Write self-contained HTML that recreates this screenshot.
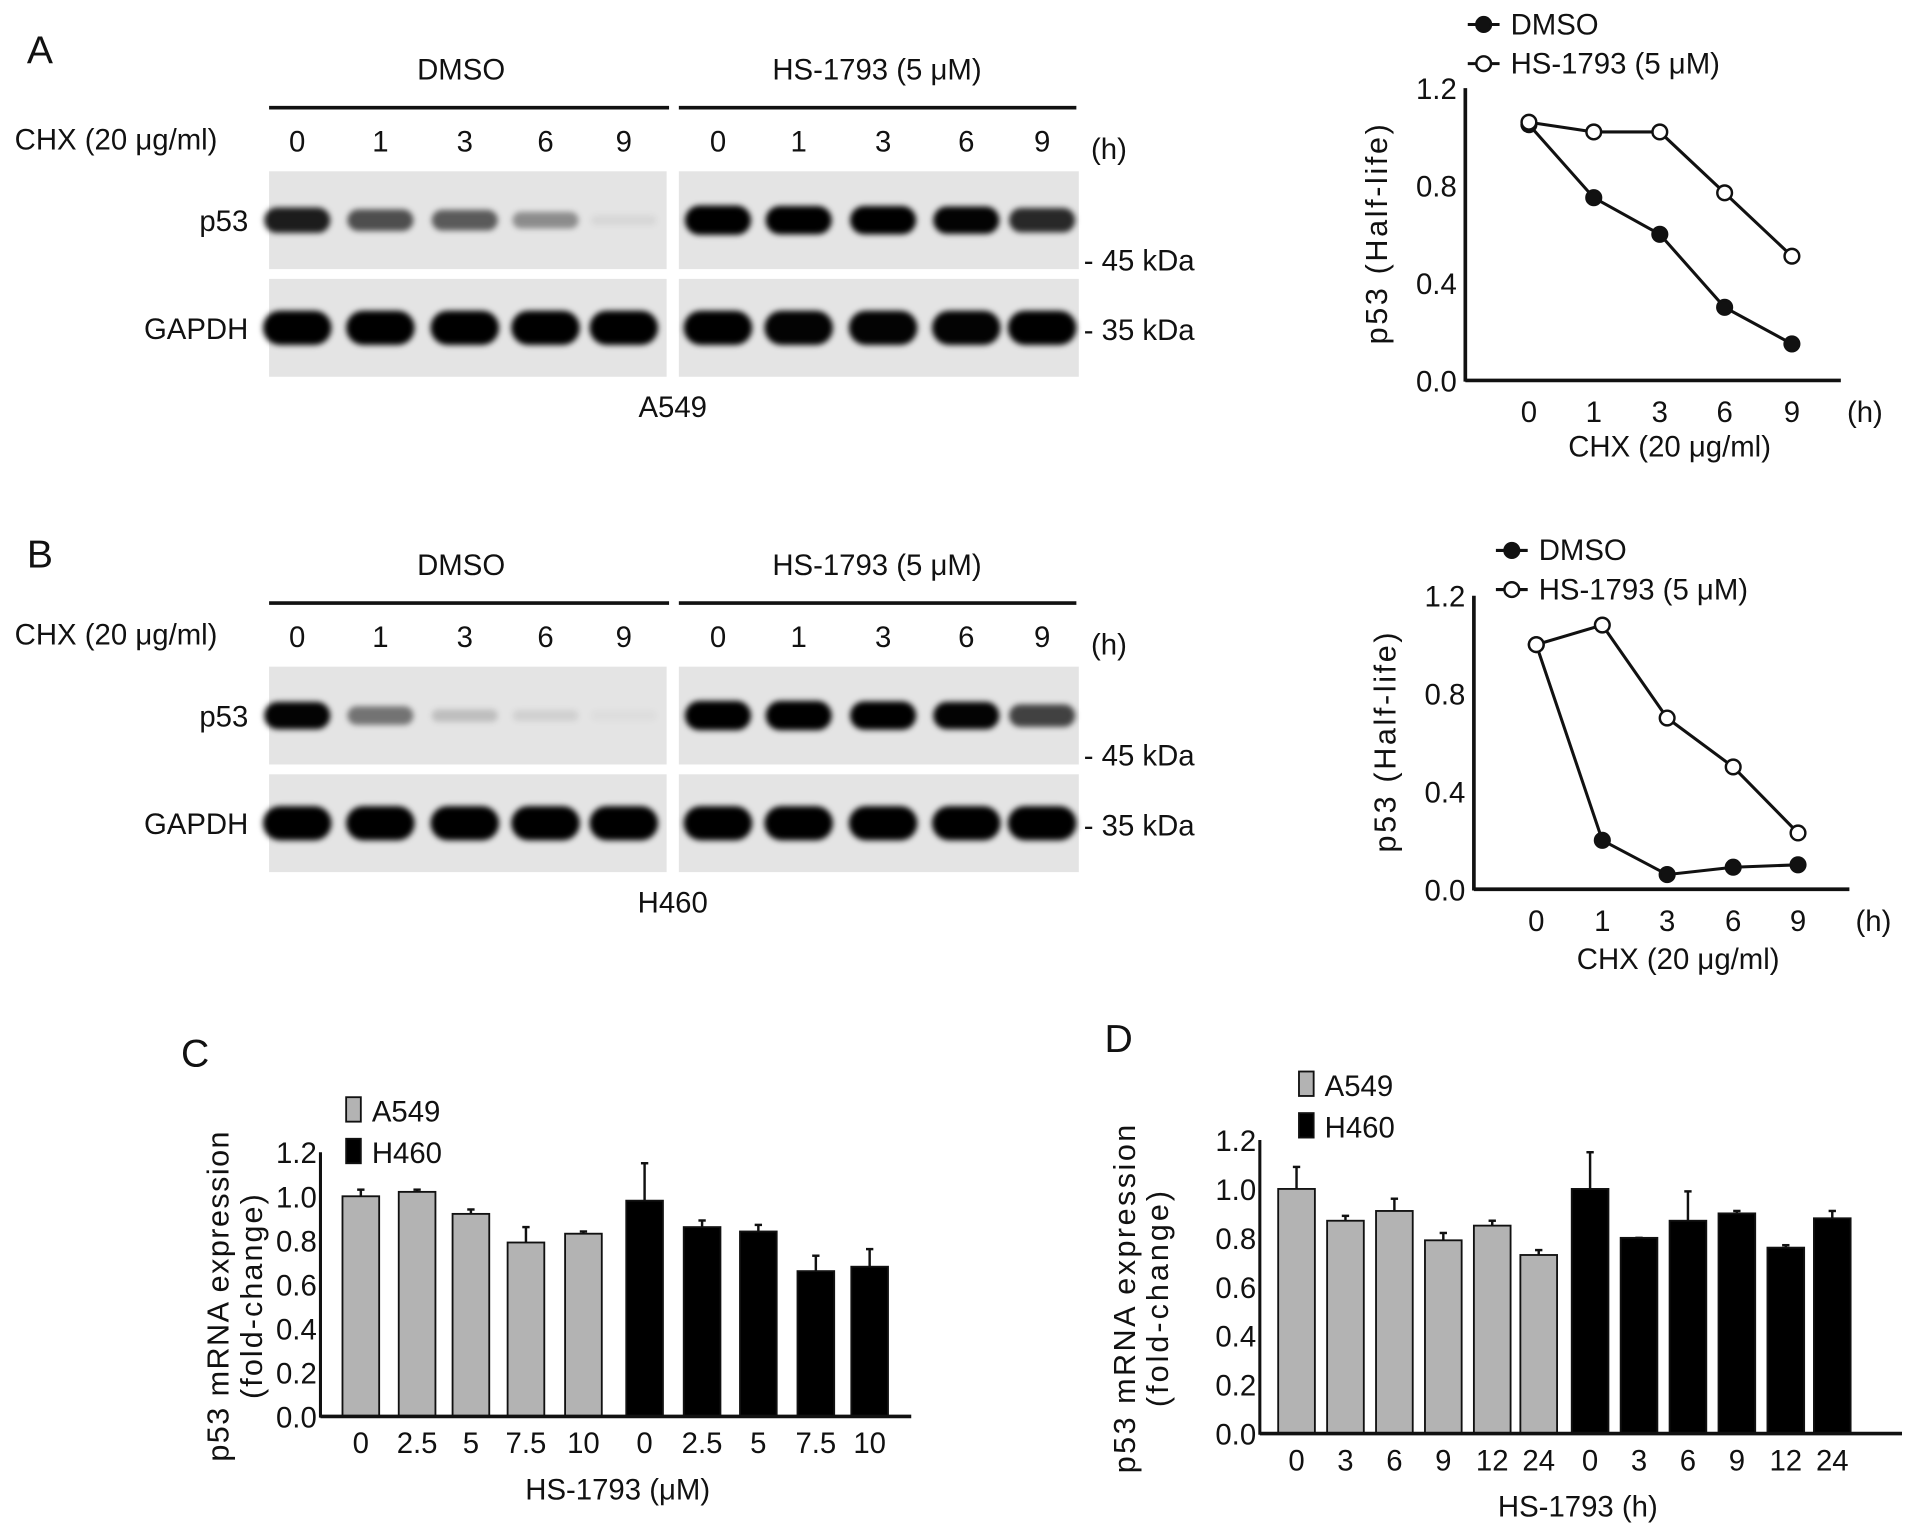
<!DOCTYPE html>
<html><head><meta charset="utf-8">
<style>
html,body{margin:0;padding:0;background:#fff;}
svg{display:block;font-family:"Liberation Sans",Arial,sans-serif;}
</style></head>
<body>
<svg id="fig" width="1913" height="1529" viewBox="0 0 1564 1250" xmlns="http://www.w3.org/2000/svg">
<defs>
<filter id="blur" x="-30%" y="-60%" width="160%" height="220%"><feGaussianBlur stdDeviation="2.5"/></filter>
</defs>
</svg>
<script>
// ---- Data ----
const lineCats = ['0','1','3','6','9'];
const lineTicks = [0, 0.4, 0.8, 1.2];
const aDmso = [1.05, 0.75, 0.60, 0.30, 0.15];
const aHs = [1.06, 1.02, 1.02, 0.77, 0.51];
const bDmso = [1.0, 0.20, 0.06, 0.09, 0.10];
const bHs = [1.0, 1.08, 0.70, 0.50, 0.23];
const barTicks = [0, 0.2, 0.4, 0.6, 0.8, 1.0, 1.2];
const cCats = ['0','2.5','5','7.5','10'];
const cA549 = [1.0, 1.02, 0.92, 0.79, 0.83];
const cA549Err = [0.03, 0.01, 0.02, 0.07, 0.01];
const cH460 = [0.98, 0.86, 0.84, 0.66, 0.68];
const cH460Err = [0.17, 0.03, 0.03, 0.07, 0.08];
const dCats = ['0','3','6','9','12','24'];
const dA549 = [1.0, 0.87, 0.91, 0.79, 0.85, 0.73];
const dA549Err = [0.09, 0.02, 0.05, 0.03, 0.02, 0.02];
const dH460 = [1.0, 0.80, 0.87, 0.90, 0.76, 0.88];
const dH460Err = [0.15, 0.0, 0.12, 0.01, 0.01, 0.03];
// blot band intensities (0..1)
const aP53 = [0.8, 0.6, 0.55, 0.35, 0.05, 1, 0.95, 0.95, 0.9, 0.75];
const aGap = [1, 0.95, 0.95, 0.95, 1, 0.95, 0.9, 0.9, 0.9, 0.95];
const bP53 = [0.9, 0.45, 0.15, 0.08, 0.03, 1, 1, 0.95, 0.9, 0.65];
const bGap = [1, 1, 0.95, 0.95, 0.95, 1, 0.95, 0.95, 1, 1];

const NS='http://www.w3.org/2000/svg';
const svg=document.getElementById('fig');
function el(tag,attrs,parent,txt){const e=document.createElementNS(NS,tag);for(const k in attrs)e.setAttribute(k,attrs[k]);if(txt!==undefined)e.textContent=txt;(parent||svg).appendChild(e);return e;}
function text(x,y,s,size,anchor,name,parent,extra){
  const t=el('text',Object.assign({x:x,y:y,'font-size':size,'text-anchor':anchor||'start',fill:'#111'},extra||{}),parent,s);
  
  
  return t;}
function line(x1,y1,x2,y2,w,parent){return el('line',{x1,y1,x2,y2,stroke:'#111','stroke-width':w||2},parent);}

// ---- Western blot panel ----
function blot(dy,cell,p53,gap,panel){
  const g=el('g',{});
  
  
  text(377,65+dy,'DMSO',24,'middle','dmso-header',g);
  text(717,65+dy,'HS-1793 (5 \u03bcM)',24,'middle','hs1793-header',g);
  line(220,88+dy,547,88+dy,3,g); line(555,88+dy,880,88+dy,3,g);
  text(12,122+dy,'CHX (20 \u03bcg/ml)',24,'start','chx-label',g);
  const lx=[243,311,380,446,510,587,653,722,790,852];
  const lab=['0','1','3','6','9','0','1','3','6','9'];
  lx.forEach((x,i)=>text(x,124+dy,lab[i],24,'middle','lane-label',g));
  text(892,130+dy,'(h)',24,'start','hours-unit',g);
  const rows=[[140,220,180,p53,'p53'],[228,308,268,gap,'GAPDH']];
  rows.forEach(r=>{
    [[220,545],[555,882]].forEach(b=>{const bx=el('rect',{x:b[0],y:r[0]+dy,width:b[1]-b[0],height:r[1]-r[0],fill:'#e4e4e4'},g);
      });
    r[3].forEach((v,i)=>{const w=r[4]==='p53'?54:56;const h=r[4]==='p53'?(8+v*16):28;
      const e=el('rect',{x:lx[i]-w/2,y:r[2]+dy-h/2,width:w,height:h,rx:h/2,fill:'#000','fill-opacity':Math.min(1,v*1.1),filter:'url(#blur)'},g);
      });
    text(203,r[2]+dy+9,r[4],24,'end','row-label-'+r[4].toLowerCase(),g);
  });
  text(886,221+dy,'- 45 kDa',24,'start','marker-45kda',g);
  text(886,278+dy,'- 35 kDa',24,'start','marker-35kda',g);
  text(550,341+dy,cell,24,'middle','cell-line-label',g);
}
text(22,52,'A',32,'start','panel-label-a');
text(22,464,'B',32,'start','panel-label-b');
blot(0,'A549',aP53,aGap,'a');
blot(405,'H460',bP53,bGap,'b');

// ---- Line charts ----
function lineChart(ox,oy0,oyTop,xs,legY,legX,dmso,hs,titleY,panel){
  const g=el('g',{});
  
  
  const ys=v=>oy0-(v/1.2)*(oy0-oyTop);
  line(ox,oyTop,ox,oy0+1,3,g); line(ox,oy0,ox+307,oy0,3,g);
  lineTicks.forEach(t=>text(ox-7,ys(t)+9,t.toFixed(1),24,'end','y-tick',g));
  lineCats.forEach((c,i)=>text(xs[i],oy0+34,c,24,'middle','x-tick',g));
  text(ox+312,oy0+34,'(h)',24,'start','x-unit',g);
  text(ox+167,titleY,'CHX (20 \u03bcg/ml)',24,'middle','x-axis-title',g);
  text(0,0,'p53 (Half-life)',25,'middle','y-axis-title',g,{transform:`translate(${ox-64},${(oy0+oyTop)/2}) rotate(-90)`,textLength:180,lengthAdjust:'spacing'});
  [[dmso,'#111','dmso'],[hs,'#fff','hs1793']].forEach(s=>{
    const pts=s[0].map((v,i)=>xs[i]+','+ys(v)).join(' ');
    const p=el('polyline',{points:pts,fill:'none',stroke:'#111','stroke-width':2.5},g);
    
    s[0].forEach((v,i)=>{const c=el('circle',{cx:xs[i],cy:ys(v),r:6,fill:s[1],stroke:'#111','stroke-width':2},g);
      });
  });
  [['DMSO','#111',legY],['HS-1793 (5 \u03bcM)','#fff',legY+32]].forEach(l=>{
    line(legX-13,l[2]-8,legX+13,l[2]-8,2.5,g);
    const c=el('circle',{cx:legX,cy:l[2]-8,r:6,fill:l[1],stroke:'#111','stroke-width':2},g);
    
    text(legX+22,l[2],l[0],24,'start','legend-entry',g);
  });
}
lineChart(1198,311,72,[1250,1303,1357,1410,1465],28,1213,aDmso,aHs,373,'a');
lineChart(1205,727,487,[1256,1310,1363,1417,1470],458,1236,bDmso,bHs,792,'b');

// ---- Bar charts ----
function barChart(ox,oy0,oyTop,xEnd,centers,cats,a,aE,h,hE,panel,letterX,title,titleX,legY,legX,ylX,ylLen){
  const g=el('g',{});
  
  
  const ys=v=>oy0-(v/1.2)*(oy0-oyTop);
  text(letterX,oyTop-70+(panel==='d'?-2:0),panel.toUpperCase(),32,'start','panel-label-'+panel,g);
  const vals=a.concat(h), errs=aE.concat(hE), labs=cats.concat(cats);
  vals.forEach((v,i)=>{
    const x=centers[i], fill=i<a.length?'#b3b3b3':'#000';
    const top=ys(v+errs[i]);
    line(x,top,x,ys(v),2,g); line(x-3,top,x+3,top,2,g);
    const r=el('rect',{x:x-15,y:ys(v),width:30,height:oy0-ys(v),fill:fill,stroke:'#111','stroke-width':1.5},g);
    
    
    text(x,oy0+30,labs[i],24,'middle','x-tick',g);
  });
  line(ox,oyTop,ox,oy0+1,2.5,g); line(ox,oy0,xEnd,oy0,3,g);
  barTicks.forEach(t=>text(ox-3,ys(t)+9,t.toFixed(1),24,'end','y-tick',g));
  text(titleX,oy0+68,title,24,'middle','x-axis-title',g);
  text(0,0,'p53 mRNA expression',25,'middle','y-axis-title',g,{transform:`translate(${ylX},${(oy0+oyTop)/2+10}) rotate(-90)`,textLength:ylLen,lengthAdjust:'spacing'});
  text(0,0,'(fold-change)',25,'middle','y-axis-title-2',g,{transform:`translate(${ylX+27},${(oy0+oyTop)/2+10}) rotate(-90)`,textLength:ylLen*0.62,lengthAdjust:'spacing'});
  [['A549','#b3b3b3',legY],['H460','#000',legY+34]].forEach(l=>{
    const r=el('rect',{x:legX-6,y:l[2]-20,width:12,height:20,fill:l[1],stroke:'#111','stroke-width':1.5},g);
    
    text(legX+15,l[2],l[0],24,'start','legend-entry',g);
  });
}
barChart(262,1158,942,745,[295,341,385,430,477,527,574,620,667,711],cCats,cA549,cA549Err,cH460,cH460Err,'c',148,'HS-1793 (\u03bcM)',505,917,289,187,270);
barChart(1030,1172,932,1555,[1060,1100,1140,1180,1220,1258,1300,1340,1380,1420,1460,1498],dCats,dA549,dA549Err,dH460,dH460Err,'d',903,'HS-1793 (h)',1290,896,1068,928,285);
</script>
</body></html>
